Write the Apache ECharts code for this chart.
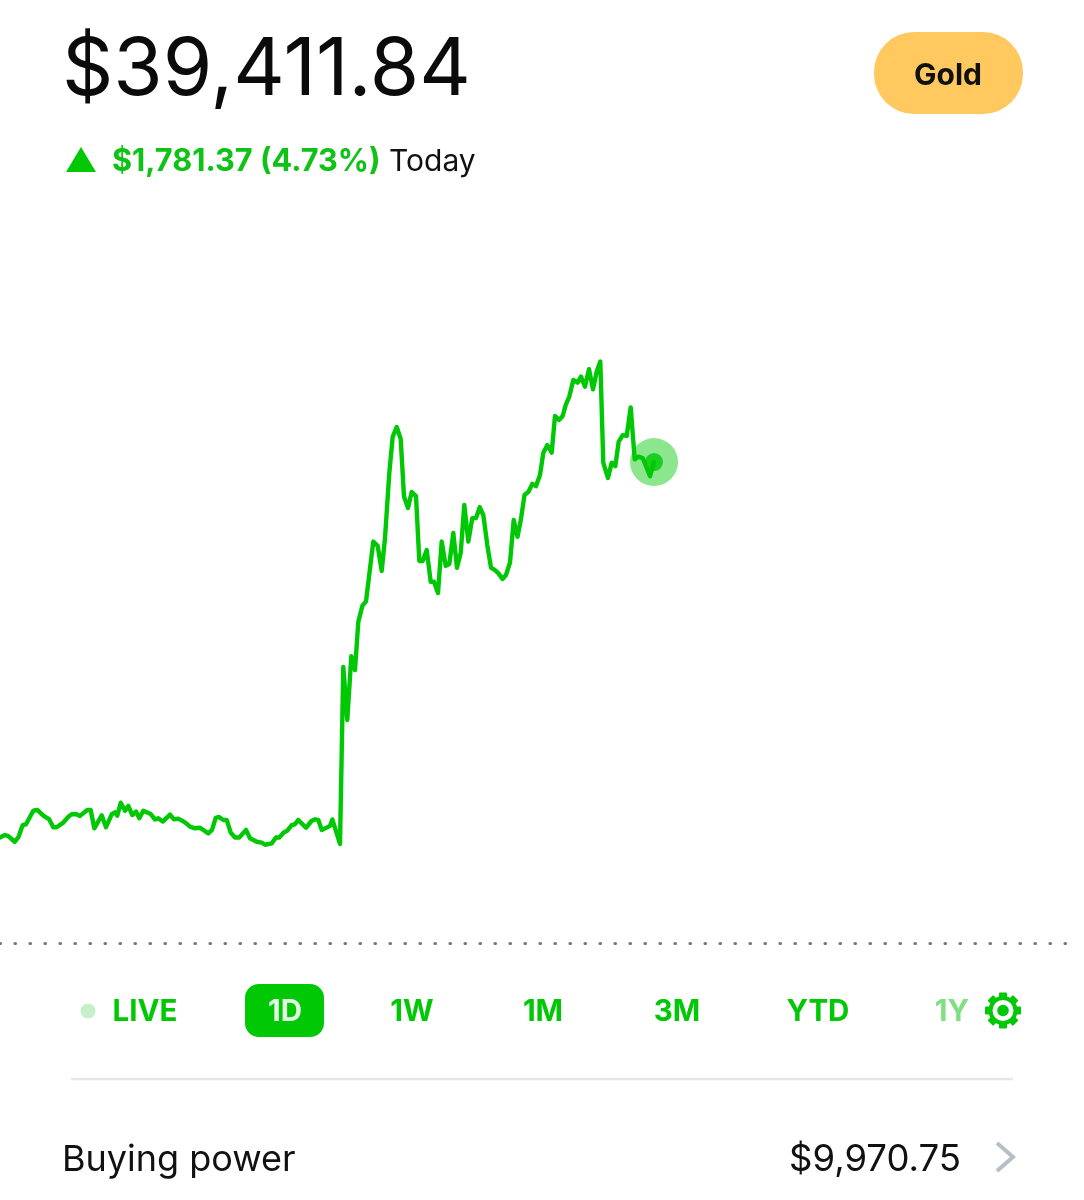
<!DOCTYPE html>
<html>
<head>
<meta charset="utf-8">
<style>html,body{margin:0;padding:0;background:#fff}#c{width:1084px;height:1200px}</style>
<script src="https://cdn.jsdelivr.net/npm/echarts@6/dist/echarts.min.js"></script>
</head>
<body>
<div id="c"></div>
<script>
// Session position (horizontal chart units) and gain versus previous close, in dollars.
const sessionPos = [0,5,8.3,14.7,18.3,22.7,26,33.3,37.3,43.3,49.3,53.3,56.7,63.3,68.3,71.7,76,80,87.3,90.7,94.3,101.7,106,111.7,115,117.3,120.7,125,128.3,132.3,136,139.3,143.3,150.7,155,158.3,162.7,170,174,178.3,185,190,195,200,208.3,212,215.7,219,223.3,226.7,230.7,235,239.3,246,250,256.7,261.7,265,271.7,276,279.3,284,287.3,291.7,295,298.3,306,311.7,315,318.3,321.7,330,332.3,340,
343.3,347.3,351.3,355,358.3,362.3,366,373.3,377.7,381.7,385,389.3,392.7,396.7,400.7,404,408,411.7,416,419.3,422.7,426.7,430.7,434,438,441.7,445.7,449.3,453.3,457,460.7,464.3,468.3,472.3,476,479.7,483.3,487.3,491,495,498.3,502.5,506,510,513.7,517.5,521,524.5,528.5,532.3,536,540,543.3,547.3,551.7,555,559,562.7,565.7,569.3,573.3,577.7,581,585,589,593,596.7,600.3,603.3,608,611.7,615.3,618.7,622.7,626.7,630.7,634.7,638.3,642.7,650,654];
const gain = [388,397,393,372,388,434,437,487,490,469,455,426,426,443,465,474,475,468,490,490,422,470,426,474,481,469,517,487,505,471,484,459,487,475,455,459,447,473,455,458,444,428,422,424,403,416,461,464,453,453,406,388,388,416,385,372,369,361,366,388,388,407,413,434,437,453,424,450,455,453,416,431,455,364,
1021,824,1061,1009,1188,1247,1264,1486,1470,1377,1499,1740,1875,1911,1867,1653,1611,1670,1655,1414,1414,1455,1337,1337,1295,1486,1396,1403,1518,1389,1444,1622,1486,1573,1573,1614,1585,1473,1389,1380,1369,1347,1362,1408,1566,1504,1570,1659,1671,1700,1692,1733,1815,1844,1816,1952,1937,1952,1993,2024,2086,2076,2098,2061,2126,2051,2116,2154,1778,1722,1779,1766,1857,1881,1878,1984,1791,1801,1796,1729,1781];
const previousCloseGain = -3;
const portfolioValue = "$39,411.84";
const changeText = "$1,781.37 (4.73%)";
const rangeLabels = ["LIVE","1D","1W","1M","3M","YTD","1Y"];
const rangeCentres = [145,285,412,543,677,818,952];

const GREEN = "#00C805";
const FONT = "Inter, 'Noto Sans', sans-serif";
const chart = echarts.init(document.getElementById("c"), null, {renderer:"canvas"});
const points = sessionPos.map((x,i)=>[x,gain[i]]);
const last = points[points.length-1];

function txt(x,y,text,size,weight,fill,align,extra){
  return Object.assign({type:"text",x:x,y:y,silent:true,style:{text:text,font:weight+" "+size+"px "+FONT,fill:fill,textAlign:align||"left",textVerticalAlign:"middle"}},extra||{});
}
const elements = [
  txt(62,71,portfolioValue,80,400,"#0b0b0b"),
  {type:"polygon",shape:{points:[[66,172],[96,172],[81,147]]},style:{fill:GREEN}},
  txt(112,162,changeText,30.7,700,"#0fc215"),
  txt(389,162,"Today",30,400,"#111"),
  {type:"rect",shape:{x:874,y:32,width:149,height:82,r:40},style:{fill:"#FFC95F"}},
  txt(948,76,"Gold",30,700,"#111","center"),
  {type:"circle",shape:{cx:88,cy:1011,r:7.5},style:{fill:"#C6F0C8"}},
  {type:"rect",shape:{x:245,y:984,width:79,height:53,r:14},style:{fill:GREEN}},
  {type:"line",shape:{x1:71,y1:1079,x2:1013,y2:1079},style:{stroke:"#E3E7EB",lineWidth:2.5}},
  txt(62,1160,"Buying power",36,400,"#111"),
  txt(961,1160,"$9,970.75",36.5,400,"#111","right"),
  {type:"polyline",shape:{points:[[997,1143],[1013,1157],[997,1171]]},style:{stroke:"#B6BEC6",lineWidth:4,fill:null}}
];
rangeLabels.forEach((t,i)=>{
  const fill = t==="1D" ? "#e4fbe5" : t==="1Y" ? "#7FE082" : GREEN;
  elements.push(txt(rangeCentres[i],1012.5,t,29.5,700,fill,"center"));
});
// settings gear
const GX=1003, GY=1010.5;
for(let k=0;k<8;k++){
  const a=k*Math.PI/4;
  elements.push({type:"rect",x:GX,y:GY,rotation:a,shape:{x:-4,y:-18,width:8,height:8,r:1},style:{fill:GREEN}});
}
elements.push({type:"circle",shape:{cx:GX,cy:GY,r:14.5},style:{fill:GREEN}});
elements.push({type:"circle",shape:{cx:GX,cy:GY,r:10.5},style:{fill:"#fff"}});
elements.push({type:"circle",shape:{cx:GX,cy:GY,r:5.8},style:{fill:GREEN}});

chart.setOption({
  animation:false,
  backgroundColor:"#fff",
  grid:{left:0,right:0,top:0,bottom:0},
  xAxis:{type:"value",min:0,max:1084,show:false},
  yAxis:{type:"value",min:-957.4,max:3495.8,show:false},
  series:[
    {type:"line",data:points,showSymbol:false,symbol:"none",smooth:false,
     lineStyle:{color:GREEN,width:4.4,join:"round",cap:"round"},
     markLine:{silent:true,symbol:"none",label:{show:false},
       lineStyle:{color:"#75797d",width:3.2,type:[0.5,14.5],cap:"round"},
       data:[[{coord:[0,previousCloseGain]},{coord:[1076,previousCloseGain]}]]},z:3},
    {type:"scatter",data:[last],symbol:"circle",symbolSize:48,itemStyle:{color:GREEN,opacity:.45},z:2},
    {type:"scatter",data:[last],symbol:"circle",symbolSize:18,itemStyle:{color:GREEN},z:4}
  ],
  graphic:{elements:elements}
});
</script>
</body>
</html>
